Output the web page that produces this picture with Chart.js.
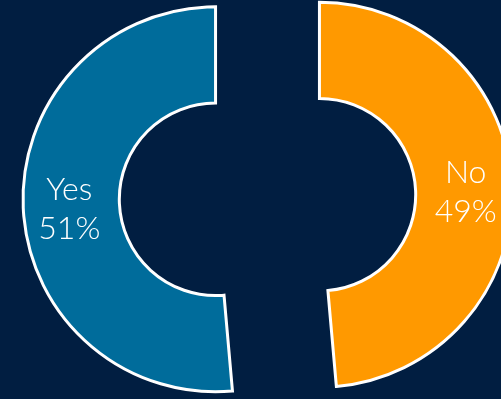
<!DOCTYPE html>
<html>
<head>
<meta charset="utf-8">
<script src="https://cdn.jsdelivr.net/npm/chart.js@4"></script>
<style>
    html, body { margin: 0; padding: 0; background: #011e41; overflow: hidden; }
</style>
</head>
<body>
<canvas id="pieChart" width="501" height="399"></canvas>
<script>
const answers = ['No', 'Yes'];
const shares = [48.6, 51.4];
const sliceColors = ['#ff9900', '#006c9b'];

const explode = 52; // how far each slice is pulled out from the centre

// pull the slices apart sideways (Chart.js offset trims the angles, so do it here)
const explodedSlices = {
    id: 'explodedSlices',
    beforeDatasetDraw(chart, args) {
        const ctx = chart.ctx;
        chart.getDatasetMeta(args.index).data.forEach(arc => {
            const mid = (arc.startAngle + arc.endAngle) / 2;
            ctx.save();
            ctx.translate(Math.cos(mid) * explode, Math.sin(mid) * explode);
            arc.draw(ctx);
            ctx.restore();
        });
        return false;
    }
};

// white "Yes / 51%" text in the middle of each slice
const sliceLabels = {
    id: 'sliceLabels',
    afterDatasetsDraw(chart) {
        const ctx = chart.ctx;
        const arcs = chart.getDatasetMeta(0).data;
        ctx.save();
        ctx.fillStyle = '#ffffff';
        ctx.font = '300 32px Lato';
        ctx.textAlign = 'center';
        ctx.textBaseline = 'alphabetic';
        arcs.forEach((arc, i) => {
            const mid = (arc.startAngle + arc.endAngle) / 2;
            const r = (arc.innerRadius + arc.outerRadius) / 2 + explode + 2;
            const x = arc.x + Math.cos(mid) * r;
            const y = arc.y + Math.sin(mid) * r + 3;
            ctx.fillText(answers[i], x, y - 8.5);
            ctx.fillText(Math.round(shares[i]) + '%', x, y + 30.5);
        });
        ctx.restore();
    }
};

const ctx = document.getElementById('pieChart').getContext('2d');
new Chart(ctx, {
    type: 'doughnut',
    data: {
        labels: answers,
        datasets: [{
            data: shares,
            backgroundColor: sliceColors,
            borderColor: '#ffffff',
            borderWidth: 3,
            borderJoinStyle: 'miter',
            radius: 192.5,
            cutout: '50%'
        }]
    },
    options: {
        responsive: false,
        animation: false,
        layout: { padding: { left: 34, bottom: 5 } },
        plugins: {
            legend: { display: false },
            tooltip: { enabled: false }
        }
    },
    plugins: [explodedSlices, sliceLabels]
});
</script>
</body>
</html>
